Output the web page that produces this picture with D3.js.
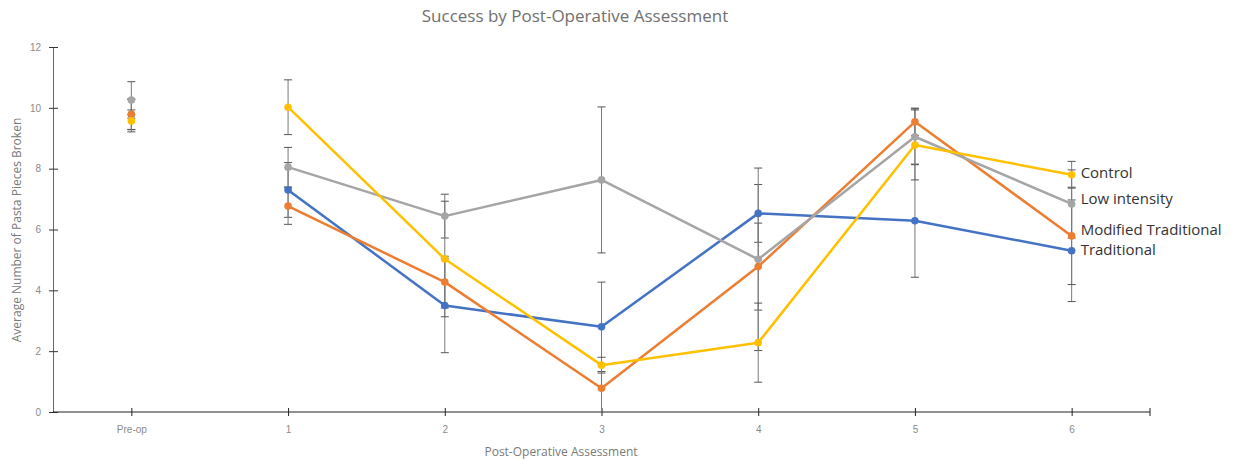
<!DOCTYPE html>
<html><head><meta charset="utf-8">
<script src="https://cdn.jsdelivr.net/npm/d3@7"></script>
<style>body{margin:0;background:#fff;} svg{display:block;font-family:"Open Sans",Lato,sans-serif;}</style>
</head><body><svg id="c" width="1236" height="459"></svg>
<script>
const categories = ["Pre-op","1","2","3","4","5","6"];
const yTicks = [0,2,4,6,8,10,12];
const seriesNames = ["Traditional","Modified Traditional","Low intensity","Control"];
const seriesColors = ["#4472C4","#ED7D31","#A5A5A5","#FFC000"];
const traditional = [9.78, 7.30, 3.50, 2.80, 6.53, 6.29, 5.30];
const traditionalErr = [0.5, 0.9, 1.55, 1.47, 0.95, 1.86, 1.67];
const modified = [9.79, 6.77, 4.27, 0.78, 4.78, 9.54, 5.79];
const modifiedErr = [0.5, 0.6, 0.85, 0.8, 1.43, 0.45, 1.6];
const lowIntensity = [10.26, 8.05, 6.44, 7.63, 5.02, 9.05, 6.84];
const lowIntensityErr = [0.6, 0.65, 0.72, 2.4, 3.0, 0.92, 1.12];
const control = [9.57, 10.02, 5.03, 1.54, 2.28, 8.78, 7.80];
const controlErr = [0.36, 0.9, 1.9, 0.26, 1.3, 1.15, 0.44];
const legendOrder = ["Control","Low intensity","Modified Traditional","Traditional"];

const values = [traditional, modified, lowIntensity, control];
const errs = [traditionalErr, modifiedErr, lowIntensityErr, controlErr];

const svg = d3.select("#c");
const m = {l:53, r:1150, t:47, b:412};
const x = d3.scalePoint().domain(categories).range([m.l, m.r]).padding(0.5);
const y = d3.scaleLinear().domain([0,12]).range([m.b, m.t]);

// axes
const yAx = svg.append("g").attr("transform",`translate(${m.l},0)`)
  .call(d3.axisLeft(y).tickValues(yTicks).tickSize(4).tickPadding(8).tickFormat(d3.format("d")));
yAx.select(".domain").attr("stroke","#666");
yAx.selectAll(".tick line").attr("stroke","#333").attr("x2",5).attr("x1",-4);
yAx.selectAll(".tick text").attr("fill","#8a8a8a").style("font-size","10px");

const xAx = svg.append("g").attr("transform",`translate(0,${m.b})`)
  .call(d3.axisBottom(x).tickSize(4).tickPadding(10).tickSizeOuter(0));
xAx.select(".domain").attr("stroke","#222").attr("d",`M${m.l},0H${m.r}`);
xAx.selectAll(".tick line").attr("stroke","#222").attr("y1",-4).attr("y2",4);
xAx.selectAll(".tick text").attr("fill","#8a8a8a").style("font-size","10px");
xAx.append("line").attr("x1",m.r).attr("x2",m.r).attr("y1",-4).attr("y2",4).attr("stroke","#222");

// titles
svg.append("text").attr("x",575).attr("y",22).attr("text-anchor","middle")
  .attr("fill","#707070").style("font-size","17px").text("Success by Post-Operative Assessment");
svg.append("text").attr("x",561).attr("y",456).attr("text-anchor","middle")
  .attr("fill","#7a7a7a").style("font-size","12px").text("Post-Operative Assessment");
svg.append("text").attr("transform","translate(21,230) rotate(-90)").attr("text-anchor","middle")
  .attr("fill","#7a7a7a").style("font-size","12px").text("Average Number of Pasta Pieces Broken");

// error bars
const eg = svg.append("g");
values.forEach((vals,si)=>{
  vals.forEach((v,i)=>{
    if(v==null) return;
    const e = errs[si][i];
    const cx = x(categories[i]);
    const lo = Math.max(0, v-e), hi = v+e;
    eg.append("line").attr("x1",cx).attr("x2",cx).attr("y1",y(lo)).attr("y2",y(hi))
      .attr("stroke","#7a7a7a").attr("stroke-width",1);
    [hi, v-e].forEach(b=>{ if(b<0) return;
      eg.append("line").attr("x1",cx-4).attr("x2",cx+4).attr("y1",y(b)).attr("y2",y(b))
        .attr("stroke","#555").attr("stroke-width",1);});
  });
});

// lines and markers
const line = d3.line().x(d=>x(d.c)).y(d=>y(d.v));
values.forEach((vals,si)=>{
  const pts = vals.map((v,i)=>({c:categories[i], v})).slice(1);
  svg.append("path").datum(pts).attr("d",line).attr("fill","none")
    .attr("stroke",seriesColors[si]).attr("stroke-width",2.5).attr("stroke-linejoin","round");
});
values.forEach((vals,si)=>{
  svg.append("g").selectAll("circle").data(vals.map((v,i)=>({c:categories[i], v})))
    .join("circle").attr("cx",d=>x(d.c)).attr("cy",d=>y(d.v)).attr("r",3.8)
    .attr("fill",seriesColors[si]);
});

// end labels
const last = categories[categories.length-1];
const labelY = {"Control":173,"Low intensity":199,"Modified Traditional":230,"Traditional":250};
legendOrder.forEach(n=>{
  svg.append("text").attr("x",x(last)+9).attr("y",labelY[n]).attr("dy","0.35em")
    .attr("fill","#333").style("font-size","15px").text(n);
});
</script></body></html>
